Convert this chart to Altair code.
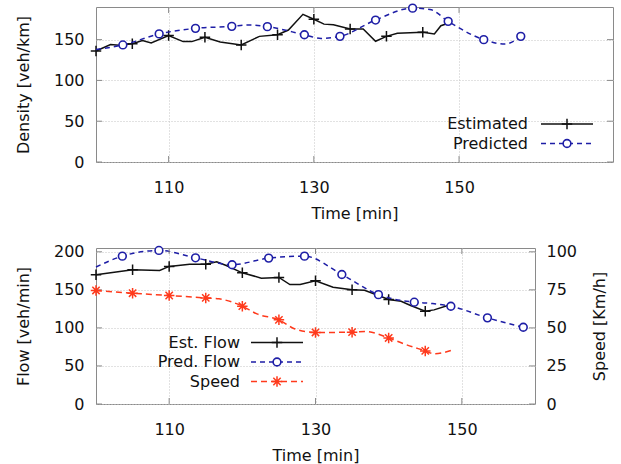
import altair as alt
import pandas as pd

# ---------------- data ----------------
# Top panel: density [veh/km]
est_density_time = [100, 102, 103.2, 105, 106.4, 107.6, 110, 112, 113.2, 115, 117.1, 120,
                    122.5, 125, 126.5, 128.5, 130, 131.4, 132.7, 135, 136.8, 138.5, 140,
                    141.5, 145, 146.6, 147.5, 148.5]
est_density = [136, 143.9, 143, 145, 148.8, 146, 155, 147.6, 147.6, 153, 147, 143.5,
               154, 156, 161.8, 181, 175, 169, 168.3, 163, 163, 148, 154,
               157.7, 159, 157, 167, 170]
est_density_marker_time = [100, 105, 110, 115, 120, 125, 130, 135, 140, 145]

pred_density_time = [100, 103.7, 108.7, 113.7, 118.7, 121, 123.6, 128.7, 131, 133.6,
                     138.5, 143.6, 146, 148.5, 153.4, 156.3, 158.5]
pred_density = [138, 143.5, 157, 163.8, 166.3, 168, 165.9, 156, 151.5, 154,
                174, 188.6, 187, 172.4, 150, 144.5, 154]
pred_density_marker_time = [103.7, 108.7, 113.7, 118.7, 123.6, 128.7, 133.6, 138.5,
                            143.6, 148.5, 153.4, 158.5]

# Bottom panel: flow [veh/min] and speed [Km/h]
est_flow_time = [100, 105, 108.7, 110, 112.8, 115, 116.5, 117.8, 120, 122.6, 125, 126.5,
                 127.9, 130, 132.4, 135, 136.7, 138.6, 140, 141.7, 143, 145, 146.2, 148.3]
est_flow = [170, 176.3, 175.5, 180.8, 183.8, 183.8, 187, 182, 172.4, 165.4, 166.3, 157,
            157, 162, 153.5, 150, 149.5, 142.6, 137.3, 135, 129.4, 122, 123.7, 130]
est_flow_marker_time = [100, 105, 110, 115, 120, 125, 130, 135, 140, 145]

pred_flow_time = [100, 103.6, 108.6, 113.6, 118.6, 123.6, 128.5, 133.6, 138.6, 143.5,
                  146, 148.5, 153.5, 158.4]
pred_flow = [180, 194.3, 201.8, 192.1, 183, 191.7, 194.3, 170.2, 143.7, 133.8,
             132, 128.5, 113.2, 100.9]
pred_flow_marker_time = [103.6, 108.6, 113.6, 118.6, 123.6, 128.5, 133.6, 138.6, 143.5,
                         148.5, 153.5, 158.4]

speed_time = [100, 105, 110, 115, 116.8, 120, 122, 125, 127.2, 130, 135, 136.8, 140,
              142.1, 145, 146.2, 148.5]
speed = [74.6, 72.8, 71.3, 69.7, 69.1, 64.3, 59.2, 55.3, 49.3, 47, 47.2, 47.6, 43.4,
         39.5, 34.9, 33, 35.1]
speed_marker_time = [100, 105, 110, 115, 120, 125, 130, 135, 140, 145]

x_ticks = [110, 130, 150]
density_ticks = [0, 50, 100, 150]
flow_ticks = [0, 50, 100, 150, 200]
speed_ticks = [0, 25, 50, 75, 100]

legend_top = ["Estimated", "Predicted"]
legend_bottom = ["Est. Flow", "Pred. Flow", "Speed"]

# ---------------- styles ----------------
FONT = "DejaVu Sans"
BLACK = "#111111"
BLUE = "#1e1ea6"
RED = "#ff3a1c"
GRAY = "#8a8a8a"
PLUS = "M-1,0L1,0M0,-1L0,1"
STAR = "M-1,0L1,0M0,-1L0,1M-0.7,-0.7L0.7,0.7M-0.7,0.7L0.7,-0.7"

W_TOP, H_TOP = 517, 155
W_BOT, H_BOT = 439, 156


def frame(t, v, name="val"):
    return pd.DataFrame({"time": t, name: v})


def markers(t, v, mt, name="val"):
    df = frame(t, v, name)
    return df[df["time"].isin(mt)]


# ---------------- top panel ----------------
xt = alt.X("time:Q", scale=alt.Scale(domain=[100, 171.2], nice=False, zero=False),
           axis=alt.Axis(values=x_ticks, title="Time [min]", labelPadding=17,
                         titlePadding=10, grid=True))
yt = alt.Y("val:Q", scale=alt.Scale(domain=[0, 190], nice=False),
           axis=alt.Axis(values=density_ticks, title="Density [veh/km]",
                         labelPadding=12, titlePadding=22, grid=True))

top_layers = [
    alt.Chart(frame(est_density_time, est_density)).mark_line(
        color=BLACK, strokeWidth=1.5).encode(x=xt, y=yt),
    alt.Chart(markers(est_density_time, est_density, est_density_marker_time)).mark_point(
        shape=PLUS, stroke=BLACK, strokeWidth=1.5, size=110, opacity=1).encode(x=xt, y=yt),
    alt.Chart(frame(pred_density_time, pred_density)).mark_line(
        color=BLUE, strokeWidth=1.5, strokeDash=[5, 4], interpolate="monotone").encode(x=xt, y=yt),
    alt.Chart(markers(pred_density_time, pred_density, pred_density_marker_time)).mark_point(
        shape="circle", stroke=BLUE, strokeWidth=1.6, size=60, opacity=1, fill="white",
        filled=False).encode(x=xt, y=yt),
    # inward ticks (gnuplot style)
    alt.Chart(pd.DataFrame({"val": density_ticks})).mark_rule(color=GRAY).encode(
        y=yt, x=alt.value(0), x2=alt.value(6)),
    alt.Chart(pd.DataFrame({"val": density_ticks})).mark_rule(color=GRAY).encode(
        y=yt, x=alt.value(W_TOP - 6), x2=alt.value(W_TOP)),
    alt.Chart(pd.DataFrame({"time": x_ticks})).mark_rule(color=GRAY).encode(
        x=xt, y=alt.value(H_TOP - 6), y2=alt.value(H_TOP)),
    alt.Chart(pd.DataFrame({"time": x_ticks})).mark_rule(color=GRAY).encode(
        x=xt, y=alt.value(0), y2=alt.value(6)),
]

dummy = pd.DataFrame({"d": [0]})
leg_x_text, leg_x0, leg_x1 = 432, 445, 497
leg_mid = (leg_x0 + leg_x1) / 2
for i, (lab, col, dash) in enumerate(zip(legend_top, [BLACK, BLUE], [None, [5, 4]])):
    yy = 117 + 19.5 * i
    top_layers.append(alt.Chart(dummy).mark_text(
        text=lab, align="right", baseline="middle", font=FONT, fontSize=16,
        color=BLACK).encode(x=alt.value(leg_x_text), y=alt.value(yy)))
    rule_kw = dict(color=col, strokeWidth=1.5)
    if dash:
        rule_kw["strokeDash"] = dash
    top_layers.append(alt.Chart(dummy).mark_rule(**rule_kw).encode(
        x=alt.value(leg_x0), x2=alt.value(leg_x1), y=alt.value(yy)))
top_layers.append(alt.Chart(dummy).mark_point(
    shape=PLUS, stroke=BLACK, strokeWidth=1.5, size=110, opacity=1).encode(
    x=alt.value(leg_mid), y=alt.value(117)))
top_layers.append(alt.Chart(dummy).mark_point(
    shape="circle", stroke=BLUE, strokeWidth=1.6, size=60, opacity=1, fill="white",
    filled=False).encode(x=alt.value(leg_mid), y=alt.value(136.5)))

top = alt.layer(*top_layers).properties(width=W_TOP, height=H_TOP)

# ---------------- bottom panel ----------------
xb = alt.X("time:Q", scale=alt.Scale(domain=[100, 160], nice=False, zero=False),
           axis=alt.Axis(values=x_ticks, title="Time [min]", labelPadding=17,
                         titlePadding=10, grid=True))
yb = alt.Y("val:Q", scale=alt.Scale(domain=[0, 205], nice=False),
           axis=alt.Axis(values=flow_ticks, title="Flow [veh/min]",
                         labelPadding=12, titlePadding=22, grid=True))
ys = alt.Y("spd:Q", scale=alt.Scale(domain=[0, 102.5], nice=False),
           axis=alt.Axis(values=speed_ticks, title="Speed [Km/h]", orient="right",
                         labelPadding=11, titlePadding=31, titleAngle=270, grid=False))

flow_layers = [
    alt.Chart(frame(est_flow_time, est_flow)).mark_line(
        color=BLACK, strokeWidth=1.5).encode(x=xb, y=yb),
    alt.Chart(markers(est_flow_time, est_flow, est_flow_marker_time)).mark_point(
        shape=PLUS, stroke=BLACK, strokeWidth=1.5, size=110, opacity=1).encode(x=xb, y=yb),
    alt.Chart(frame(pred_flow_time, pred_flow)).mark_line(
        color=BLUE, strokeWidth=1.5, strokeDash=[5, 4], interpolate="monotone").encode(x=xb, y=yb),
    alt.Chart(markers(pred_flow_time, pred_flow, pred_flow_marker_time)).mark_point(
        shape="circle", stroke=BLUE, strokeWidth=1.6, size=60, opacity=1, fill="white",
        filled=False).encode(x=xb, y=yb),
    alt.Chart(pd.DataFrame({"val": flow_ticks})).mark_rule(color=GRAY).encode(
        y=yb, x=alt.value(0), x2=alt.value(6)),
    alt.Chart(pd.DataFrame({"val": flow_ticks})).mark_rule(color=GRAY).encode(
        y=yb, x=alt.value(W_BOT - 6), x2=alt.value(W_BOT)),
    alt.Chart(pd.DataFrame({"time": x_ticks})).mark_rule(color=GRAY).encode(
        x=xb, y=alt.value(H_BOT - 6), y2=alt.value(H_BOT)),
    alt.Chart(pd.DataFrame({"time": x_ticks})).mark_rule(color=GRAY).encode(
        x=xb, y=alt.value(0), y2=alt.value(6)),
]

lx_text, lx0, lx1 = 144, 155, 207
lmid = (lx0 + lx1) / 2
cols = [BLACK, BLUE, RED]
dashes = [None, [5, 4], [6, 4]]
for i, (lab, col, dash) in enumerate(zip(legend_bottom, cols, dashes)):
    yy = 94.5 + 19.5 * i
    flow_layers.append(alt.Chart(dummy).mark_text(
        text=lab, align="right", baseline="middle", font=FONT, fontSize=16,
        color=BLACK).encode(x=alt.value(lx_text), y=alt.value(yy)))
    rule_kw = dict(color=col, strokeWidth=1.5)
    if dash:
        rule_kw["strokeDash"] = dash
    flow_layers.append(alt.Chart(dummy).mark_rule(**rule_kw).encode(
        x=alt.value(lx0), x2=alt.value(lx1), y=alt.value(yy)))
flow_layers.append(alt.Chart(dummy).mark_point(
    shape=PLUS, stroke=BLACK, strokeWidth=1.5, size=110, opacity=1).encode(
    x=alt.value(lmid), y=alt.value(94.5)))
flow_layers.append(alt.Chart(dummy).mark_point(
    shape="circle", stroke=BLUE, strokeWidth=1.6, size=60, opacity=1, fill="white",
    filled=False).encode(x=alt.value(lmid), y=alt.value(114)))
flow_layers.append(alt.Chart(dummy).mark_point(
    shape=STAR, stroke=RED, strokeWidth=1.5, size=110, opacity=1).encode(
    x=alt.value(lmid), y=alt.value(133.5)))

speed_layers = [
    alt.Chart(frame(speed_time, speed, "spd")).mark_line(
        color=RED, strokeWidth=1.5, strokeDash=[6, 4], interpolate="monotone").encode(x=xb, y=ys),
    alt.Chart(markers(speed_time, speed, speed_marker_time, "spd")).mark_point(
        shape=STAR, stroke=RED, strokeWidth=1.5, size=110, opacity=1).encode(x=xb, y=ys),
]

bottom = alt.layer(alt.layer(*flow_layers), alt.layer(*speed_layers)).resolve_scale(
    y="independent").properties(width=W_BOT, height=H_BOT)

chart = alt.vconcat(top, bottom, spacing=20).properties(
    padding={"left": 14, "top": 0, "right": 0, "bottom": 0},
    background="white",
).configure_view(stroke=GRAY, strokeWidth=1).configure_axis(
    labelFont=FONT, labelFontSize=16, labelColor=BLACK,
    titleFont=FONT, titleFontSize=16, titleFontWeight="normal", titleColor=BLACK,
    domain=False, ticks=False, gridColor="#c4c4c4", gridDash=[1, 2], gridWidth=1,
).configure_concat(spacing=20)

chart.save("out.html", embed_options={"renderer": "svg", "actions": False})
